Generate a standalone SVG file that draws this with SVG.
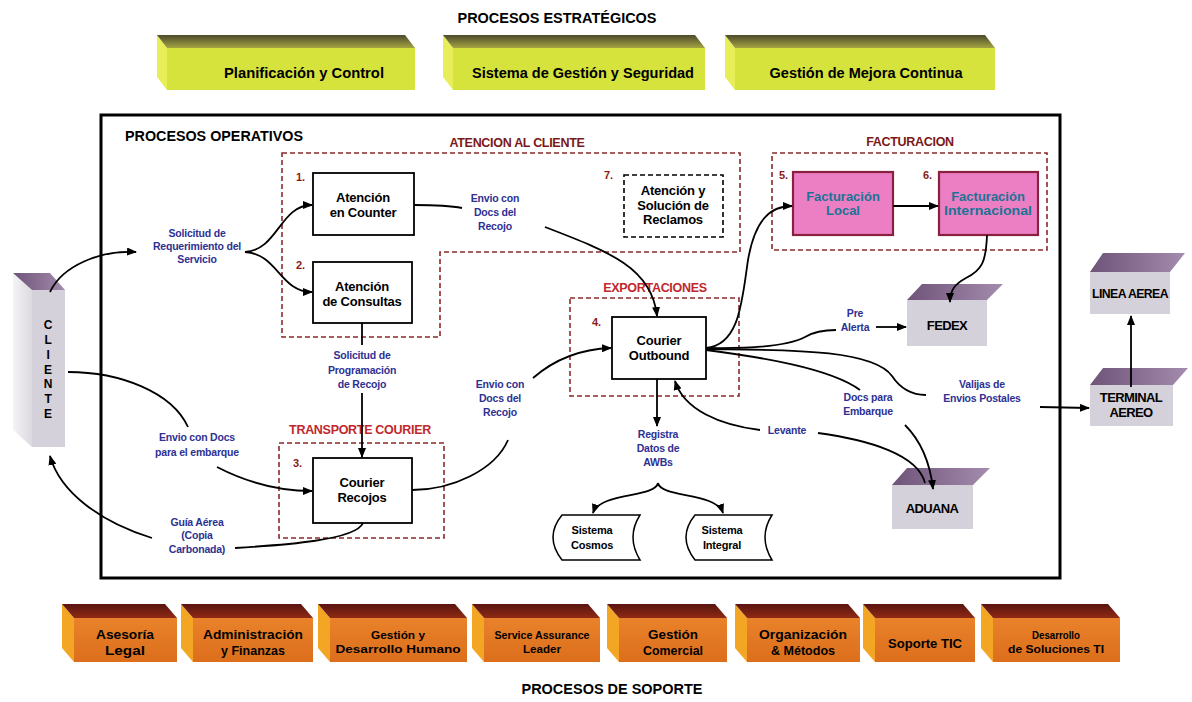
<svg xmlns="http://www.w3.org/2000/svg" width="1192" height="702" viewBox="0 0 1192 702">
  <defs>
    <linearGradient id="gOliveTop" x1="0" y1="0" x2="0" y2="1">
      <stop offset="0" stop-color="#4c4a2c"/>
      <stop offset="1" stop-color="#a4a442"/>
    </linearGradient>
    <linearGradient id="gMaroonTop" x1="0" y1="0" x2="0" y2="1">
      <stop offset="0" stop-color="#5a1410"/>
      <stop offset="1" stop-color="#8e2a14"/>
    </linearGradient>
    <linearGradient id="gPurpleTop" x1="0" y1="0" x2="1" y2="0">
      <stop offset="0" stop-color="#6e5478"/>
      <stop offset="1" stop-color="#a48cae"/>
    </linearGradient>
    <linearGradient id="gOrange" x1="0" y1="0" x2="0" y2="1">
      <stop offset="0" stop-color="#e9822a"/>
      <stop offset="1" stop-color="#dc6e1c"/>
    </linearGradient>
    <linearGradient id="gClientSide" x1="0" y1="0" x2="1" y2="0">
      <stop offset="0" stop-color="#f4f3f6"/>
      <stop offset="1" stop-color="#dcd9e0"/>
    </linearGradient>
    <marker id="arrow" viewBox="0 0 10 8" refX="9" refY="4" markerWidth="10" markerHeight="8" markerUnits="userSpaceOnUse" orient="auto">
      <path d="M0,0 L10,4 L0,8 z" fill="#000"/>
    </marker>
  </defs>
  <style>
    text { font-family: "Liberation Sans", Arial, sans-serif; font-weight: bold; }
    .title { font-size: 14px; fill: #000; }
    .strat { font-size: 14px; fill: #000; text-anchor: middle; }
    .supp { font-size: 12.5px; fill: #000; text-anchor: middle; }
    .supps { font-size: 10px; fill: #000; text-anchor: middle; }
    .node { font-size: 13px; fill: #000; text-anchor: middle; letter-spacing: -0.2px; }
    .lbl { font-size: 10.5px; fill: #2e3192; text-anchor: middle; letter-spacing: -0.2px; }
    .grp { font-size: 12.5px; fill: #7a1818; text-anchor: middle; letter-spacing: -0.3px; }
    .grpr { font-size: 12.5px; fill: #c1272d; text-anchor: middle; letter-spacing: -0.3px; }
    .num { font-size: 11px; fill: #8b1a1a; }
    .fact { font-size: 13px; fill: #1a7394; text-anchor: middle; }
    .ext { font-size: 13px; fill: #000; text-anchor: middle; letter-spacing: -0.6px; }
    .box { fill: #fff; stroke: #000; stroke-width: 1.8; }
    .pink { fill: #ec7fc4; stroke: #8a2040; stroke-width: 2.2; }
    .dash { fill: none; stroke: #8b2a2a; stroke-width: 1.6; stroke-dasharray: 5 3; }
    .dashk { fill: #fff; stroke: #000; stroke-width: 1.6; stroke-dasharray: 5 3; }
    .olivetop { fill: url(#gOliveTop); }
    .olivefront { fill: #d6e33c; }
    .oliveside { fill: #e7ee58; }
    .martop { fill: url(#gMaroonTop); }
    .orfront { fill: url(#gOrange); }
    .orside { fill: #f2a624; }
    .ptop { fill: url(#gPurpleTop); }
    .gfront { fill: #d4d1db; }
    .conn { fill: none; stroke: #000; stroke-width: 1.8; }
    .store { fill: #fff; stroke: #000; stroke-width: 1.5; }
  </style>

  <rect width="1192" height="702" fill="#fff"/>

  <!-- Strategic processes -->
  <text class="title" x="557" y="23" text-anchor="middle" textLength="199" lengthAdjust="spacingAndGlyphs">PROCESOS ESTRATÉGICOS</text>
  <g id="strat-planificacion">
    <polygon class="oliveside" points="157,35 167,48 167,90 157,77"/>
    <polygon class="olivetop" points="157,35 405,35 415,48 167,48"/>
    <rect class="olivefront" x="167" y="48" width="248" height="42"/>
    <text class="strat" x="304" y="78" textLength="160" lengthAdjust="spacingAndGlyphs">Planificación y Control</text>
  </g>
  <g id="strat-sistema">
    <polygon class="oliveside" points="443,35 453,48 453,90 443,77"/>
    <polygon class="olivetop" points="443,35 695,35 705,48 453,48"/>
    <rect class="olivefront" x="453" y="48" width="252" height="42"/>
    <text class="strat" x="583" y="78" textLength="222" lengthAdjust="spacingAndGlyphs">Sistema de Gestión y Seguridad</text>
  </g>
  <g id="strat-mejora">
    <polygon class="oliveside" points="725,35 735,48 735,90 725,77"/>
    <polygon class="olivetop" points="725,35 985,35 995,48 735,48"/>
    <rect class="olivefront" x="735" y="48" width="260" height="42"/>
    <text class="strat" x="866" y="78" textLength="193" lengthAdjust="spacingAndGlyphs">Gestión de Mejora Continua</text>
  </g>

  <!-- Operational frame -->
  <g id="operativos">
    <rect x="101" y="115" width="959" height="463" fill="none" stroke="#000" stroke-width="3"/>
    <text class="title" x="125" y="141" textLength="178" lengthAdjust="spacingAndGlyphs">PROCESOS OPERATIVOS</text>
  </g>

  <!-- Grouping areas -->
  <g id="grupo-atencion">
    <polygon class="dash" points="282,153 740,153 740,252 440,252 440,337 282,337"/>
    <text class="grp" x="517" y="147">ATENCION AL CLIENTE</text>
  </g>
  <g id="grupo-facturacion">
    <rect class="dash" x="772" y="153" width="275" height="97"/>
    <text class="grp" x="910" y="146">FACTURACION</text>
  </g>
  <g id="grupo-exportaciones">
    <rect class="dash" x="570" y="298" width="169" height="98"/>
    <text class="grpr" x="655" y="292">EXPORTACIONES</text>
  </g>
  <g id="grupo-transporte">
    <rect class="dash" x="279" y="443" width="165" height="95"/>
    <text class="grpr" x="360" y="434">TRANSPORTE COURIER</text>
  </g>

  <!-- Client -->
  <g id="cliente">
    <polygon fill="url(#gClientSide)" points="13,273 32,290 32,447 13,430"/>
    <polygon class="ptop" points="13,273 50,273 65,290 32,290"/>
    <rect class="gfront" x="32" y="290" width="33" height="157"/>
    <g class="node" style="font-size:12px">
      <text x="48" y="329">C</text>
      <text x="48" y="344">L</text>
      <text x="48" y="359">I</text>
      <text x="48" y="374">E</text>
      <text x="48" y="388">N</text>
      <text x="48" y="403">T</text>
      <text x="48" y="418">E</text>
    </g>
  </g>

  <!-- Process nodes -->
  <g id="n1-counter">
    <text class="num" x="296" y="181">1.</text>
    <rect class="box" x="313" y="173" width="101" height="62"/>
    <text class="node" x="363" y="202">Atención</text>
    <text class="node" x="363" y="217">en Counter</text>
  </g>
  <g id="n2-consultas">
    <text class="num" x="296" y="269">2.</text>
    <rect class="box" x="313" y="262" width="99" height="61"/>
    <text class="node" x="362" y="291">Atención</text>
    <text class="node" x="362" y="306">de Consultas</text>
  </g>
  <g id="n3-recojos">
    <text class="num" x="293" y="467">3.</text>
    <rect class="box" x="313" y="458" width="99" height="65"/>
    <text class="node" x="362" y="487">Courier</text>
    <text class="node" x="362" y="502">Recojos</text>
  </g>
  <g id="n4-outbound">
    <text class="num" x="592" y="326">4.</text>
    <rect class="box" x="612" y="317" width="94" height="62"/>
    <text class="node" x="659" y="345">Courier</text>
    <text class="node" x="659" y="360">Outbound</text>
  </g>
  <g id="n5-fact-local">
    <text class="num" x="779" y="179">5.</text>
    <rect class="pink" x="793" y="172" width="100" height="63"/>
    <text class="fact" x="843" y="201">Facturación</text>
    <text class="fact" x="843" y="215">Local</text>
  </g>
  <g id="n6-fact-internacional">
    <text class="num" x="923" y="179">6.</text>
    <rect class="pink" x="939" y="172" width="99" height="63"/>
    <text class="fact" x="988" y="201">Facturación</text>
    <text class="fact" x="988" y="215" textLength="88" lengthAdjust="spacingAndGlyphs">Internacional</text>
  </g>
  <g id="n7-reclamos">
    <text class="num" x="604" y="179">7.</text>
    <rect class="dashk" x="624" y="175" width="99" height="62"/>
    <text class="node" x="673" y="195">Atención y</text>
    <text class="node" x="673" y="210">Solución de</text>
    <text class="node" x="673" y="224">Reclamos</text>
  </g>

  <!-- Support systems -->
  <g id="sistema-cosmos">
    <path class="store" d="M562,515 L640,515 Q626,537 640,560 L562,560 Q544,537 562,515 Z"/>
    <text class="node" x="592" y="534" style="font-size:11px">Sistema</text>
    <text class="node" x="592" y="549" style="font-size:11px">Cosmos</text>
  </g>
  <g id="sistema-integral">
    <path class="store" d="M695,515 L772,515 Q758,537 772,560 L695,560 Q677,537 695,515 Z"/>
    <text class="node" x="722" y="534" style="font-size:11px">Sistema</text>
    <text class="node" x="722" y="549" style="font-size:11px">Integral</text>
  </g>

  <!-- External parties -->
  <g id="fedex">
    <polygon class="ptop" points="907,300 922,284 1003,284 987,300"/>
    <rect class="gfront" x="907" y="300" width="80" height="46"/>
    <text class="ext" x="947" y="330">FEDEX</text>
  </g>
  <g id="aduana">
    <polygon class="ptop" points="892,485 907,468 990,468 973,485"/>
    <rect class="gfront" x="892" y="485" width="81" height="44"/>
    <text class="ext" x="932" y="513">ADUANA</text>
  </g>
  <g id="linea-aerea">
    <polygon class="ptop" points="1090,272 1103,253 1185,253 1170,272"/>
    <rect class="gfront" x="1090" y="272" width="80" height="42"/>
    <text class="ext" x="1130" y="298" textLength="76" lengthAdjust="spacingAndGlyphs">LINEA AEREA</text>
  </g>
  <g id="terminal-aereo">
    <polygon class="ptop" points="1090,385 1103,368 1188,368 1173,385"/>
    <rect class="gfront" x="1090" y="385" width="83" height="41"/>
    <text class="ext" x="1131" y="402">TERMINAL</text>
    <text class="ext" x="1131" y="417">AEREO</text>
  </g>

  <!-- Connectors -->
  <g id="connectors">
    <path class="conn" marker-end="url(#arrow)" d="M50,292 C62,266 100,250 136,252"/>
    <path class="conn" marker-end="url(#arrow)" d="M245,252 C278,250 280,205 312,205"/>
    <path class="conn" marker-end="url(#arrow)" d="M245,252 C278,254 280,292 312,292"/>
    <path class="conn" d="M414,205 C436,205 452,206 462,208"/>
    <path class="conn" marker-end="url(#arrow)" d="M545,227 C610,252 652,268 657,316"/>
    <path class="conn" d="M362,323 L362,345"/>
    <path class="conn" marker-end="url(#arrow)" d="M362,393 L362,457"/>
    <path class="conn" d="M68,372 C120,372 172,392 188,427"/>
    <path class="conn" marker-end="url(#arrow)" d="M217,467 C250,484 280,491 312,491"/>
    <path class="conn" d="M363,523 C356,540 285,545 235,548"/>
    <path class="conn" marker-end="url(#arrow)" d="M152,538 C100,522 60,492 50,456"/>
    <path class="conn" d="M412,490 C452,490 495,470 508,440"/>
    <path class="conn" marker-end="url(#arrow)" d="M533,378 C556,358 582,349 611,348"/>
    <path class="conn" marker-end="url(#arrow)" d="M657,379 L657,426"/>
    <path class="conn" marker-end="url(#arrow)" d="M658,483 C655,498 600,492 593,513"/>
    <path class="conn" marker-end="url(#arrow)" d="M658,483 C661,498 716,492 723,513"/>
    <path class="conn" marker-end="url(#arrow)" d="M706,348 C740,345 742,300 748,260 C755,220 770,206 792,206"/>
    <path class="conn" marker-end="url(#arrow)" d="M893,206 L938,206"/>
    <path class="conn" marker-end="url(#arrow)" d="M987,235 C986,262 982,270 966,278 C955,284 950,290 950,302"/>
    <path class="conn" d="M706,348 C760,349 790,345 805,337 C815,331 825,330 836,330"/>
    <path class="conn" marker-end="url(#arrow)" d="M876,327 L906,327"/>
    <path class="conn" d="M706,349 C780,350 872,348 892,376 C900,388 912,395 926,395"/>
    <path class="conn" d="M706,350 C760,357 830,368 860,390"/>
    <path class="conn" marker-end="url(#arrow)" d="M1040,407 L1089,408"/>
    <path class="conn" marker-end="url(#arrow)" d="M760,430 C720,425 684,410 675,381"/>
    <path class="conn" d="M818,433 C870,440 918,455 925,483"/>
    <path class="conn" marker-end="url(#arrow)" d="M905,425 C920,440 930,462 933,489"/>
    <path class="conn" marker-end="url(#arrow)" d="M1131,387 L1131,316"/>
  </g>

  <!-- Flow labels -->
  <g id="labels">
    <text class="lbl" x="197" y="237">Solicitud de</text>
    <text class="lbl" x="197" y="250">Requerimiento del</text>
    <text class="lbl" x="197" y="263">Servicio</text>
    <text class="lbl" x="495" y="202">Envio con</text>
    <text class="lbl" x="495" y="216">Docs del</text>
    <text class="lbl" x="495" y="230">Recojo</text>
    <text class="lbl" x="362" y="359">Solicitud de</text>
    <text class="lbl" x="362" y="374">Programación</text>
    <text class="lbl" x="362" y="388">de Recojo</text>
    <text class="lbl" x="197" y="441">Envio con Docs</text>
    <text class="lbl" x="197" y="456">para el embarque</text>
    <text class="lbl" x="197" y="526">Guía Aérea</text>
    <text class="lbl" x="197" y="539">(Copia</text>
    <text class="lbl" x="197" y="553">Carbonada)</text>
    <text class="lbl" x="500" y="388">Envio con</text>
    <text class="lbl" x="500" y="402">Docs del</text>
    <text class="lbl" x="500" y="416">Recojo</text>
    <text class="lbl" x="658" y="438">Registra</text>
    <text class="lbl" x="658" y="452">Datos de</text>
    <text class="lbl" x="658" y="466">AWBs</text>
    <text class="lbl" x="855" y="317">Pre</text>
    <text class="lbl" x="855" y="331">Alerta</text>
    <text class="lbl" x="982" y="388">Valijas de</text>
    <text class="lbl" x="982" y="402">Envios  Postales</text>
    <text class="lbl" x="868" y="401">Docs para</text>
    <text class="lbl" x="868" y="415">Embarque</text>
    <text class="lbl" x="787" y="434">Levante</text>
  </g>

  <!-- Support processes -->
  <g id="sop-asesoria">
    <polygon class="orside" points="62,604 74,618 74,662 62,648"/>
    <polygon class="martop" points="62,604 165,604 177,618 74,618"/>
    <rect class="orfront" x="74" y="618" width="103" height="44"/>
    <text class="supp" x="125" y="639" textLength="58" lengthAdjust="spacingAndGlyphs">Asesoría</text>
    <text class="supp" x="125" y="655" textLength="40" lengthAdjust="spacingAndGlyphs">Legal</text>
  </g>
  <g id="sop-administracion">
    <polygon class="orside" points="181,604 193,618 193,662 181,648"/>
    <polygon class="martop" points="181,604 301,604 313,618 193,618"/>
    <rect class="orfront" x="193" y="618" width="120" height="44"/>
    <text class="supp" x="253" y="639" textLength="100" lengthAdjust="spacingAndGlyphs">Administración</text>
    <text class="supp" x="253" y="655" textLength="64" lengthAdjust="spacingAndGlyphs">y Finanzas</text>
  </g>
  <g id="sop-desarrollo-humano">
    <polygon class="orside" points="318,604 330,618 330,662 318,648"/>
    <polygon class="martop" points="318,604 455,604 467,618 330,618"/>
    <rect class="orfront" x="330" y="618" width="137" height="44"/>
    <text class="supps" x="398" y="639" textLength="54" lengthAdjust="spacingAndGlyphs">Gestión y</text>
    <text class="supps" x="398" y="653" textLength="125" lengthAdjust="spacingAndGlyphs">Desarrollo Humano</text>
  </g>
  <g id="sop-service-assurance">
    <polygon class="orside" points="472,604 484,618 484,662 472,648"/>
    <polygon class="martop" points="472,604 588,604 600,618 484,618"/>
    <rect class="orfront" x="484" y="618" width="116" height="44"/>
    <text class="supps" x="542" y="639" textLength="95" lengthAdjust="spacingAndGlyphs">Service Assurance</text>
    <text class="supps" x="542" y="653" textLength="38" lengthAdjust="spacingAndGlyphs">Leader</text>
  </g>
  <g id="sop-comercial">
    <polygon class="orside" points="607,604 619,618 619,662 607,648"/>
    <polygon class="martop" points="607,604 715,604 727,618 619,618"/>
    <rect class="orfront" x="619" y="618" width="108" height="44"/>
    <text class="supp" x="673" y="639" textLength="50" lengthAdjust="spacingAndGlyphs">Gestión</text>
    <text class="supp" x="673" y="655" textLength="60" lengthAdjust="spacingAndGlyphs">Comercial</text>
  </g>
  <g id="sop-organizacion">
    <polygon class="orside" points="735,604 747,618 747,662 735,648"/>
    <polygon class="martop" points="735,604 848,604 860,618 747,618"/>
    <rect class="orfront" x="747" y="618" width="113" height="44"/>
    <text class="supp" x="803" y="639" textLength="88" lengthAdjust="spacingAndGlyphs">Organización</text>
    <text class="supp" x="803" y="655" textLength="64" lengthAdjust="spacingAndGlyphs">&amp; Métodos</text>
  </g>
  <g id="sop-tic">
    <polygon class="orside" points="863,604 875,618 875,662 863,648"/>
    <polygon class="martop" points="863,604 963,604 975,618 875,618"/>
    <rect class="orfront" x="875" y="618" width="100" height="44"/>
    <text class="supp" x="925" y="648" textLength="74" lengthAdjust="spacingAndGlyphs">Soporte TIC</text>
  </g>
  <g id="sop-soluciones">
    <polygon class="orside" points="981,604 993,618 993,662 981,648"/>
    <polygon class="martop" points="981,604 1108,604 1120,618 993,618"/>
    <rect class="orfront" x="993" y="618" width="127" height="44"/>
    <text class="supps" x="1056" y="639" textLength="48" lengthAdjust="spacingAndGlyphs">Desarrollo</text>
    <text class="supps" x="1056" y="653" textLength="96" lengthAdjust="spacingAndGlyphs">de Soluciones TI</text>
  </g>

  <text class="title" x="612" y="694" text-anchor="middle" textLength="181" lengthAdjust="spacingAndGlyphs">PROCESOS DE SOPORTE</text>
</svg>
